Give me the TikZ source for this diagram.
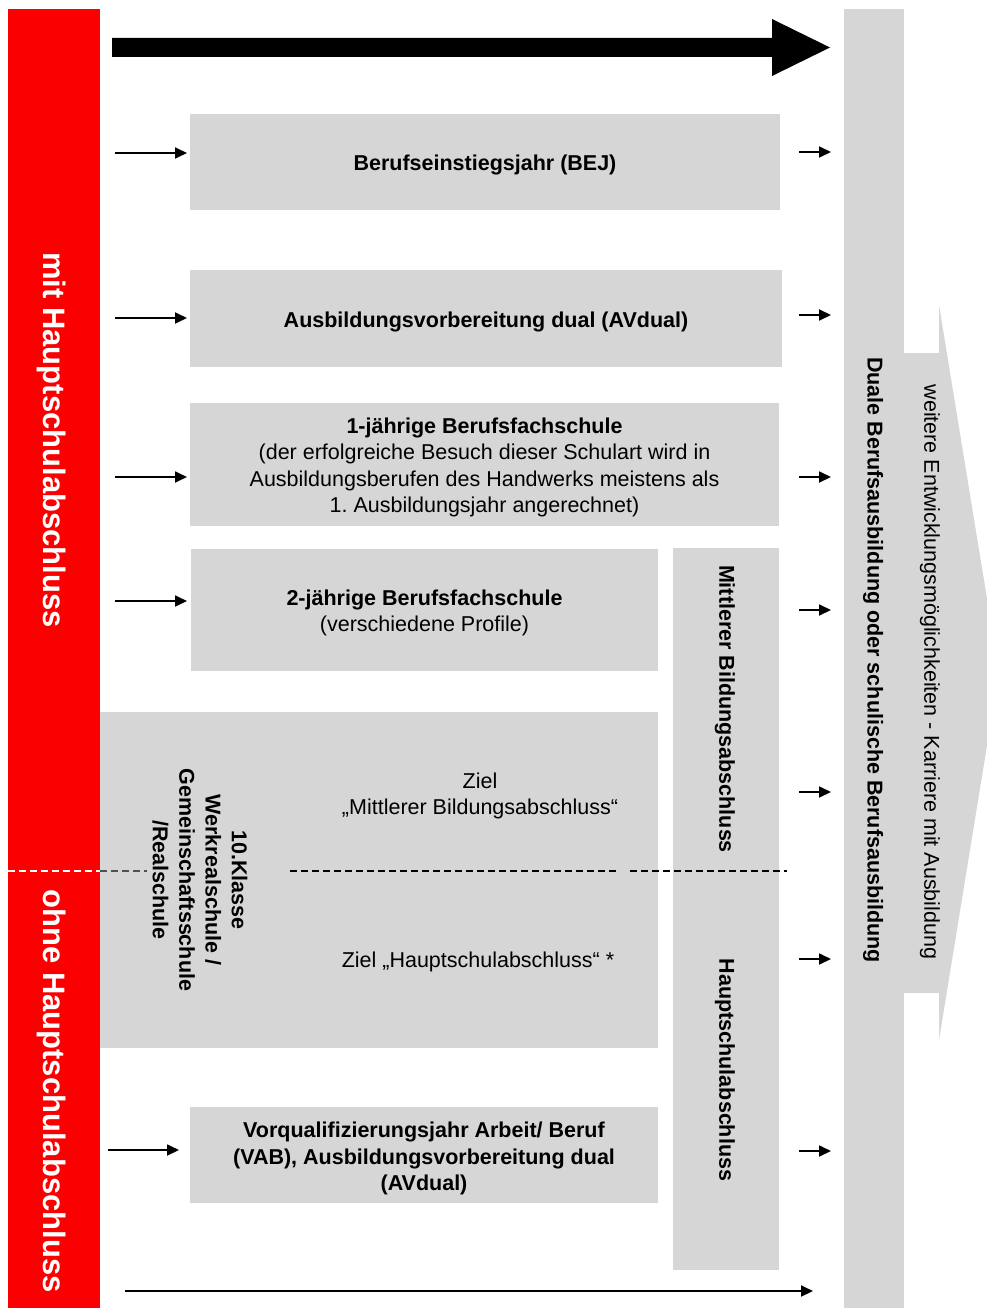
\documentclass[tikz,border=0pt]{standalone}
\usepackage{fontspec}
\setmainfont{Liberation Sans}
\usetikzlibrary{arrows.meta}
\definecolor{boxgray}{HTML}{D6D6D6}
\definecolor{barred}{HTML}{FA0000}
\definecolor{dashgray}{HTML}{505050}
\frenchspacing
\begin{document}
\begin{tikzpicture}[x=1pt,y=-1pt,
  box/.style={fill=boxgray, draw=none, inner sep=0pt},
  txt/.style={inner sep=0pt, align=center, font=\fontsize{21.5}{26.3}\selectfont},
  btxt/.style={txt, font=\fontsize{21.5}{26.3}\selectfont\bfseries},
  redtxt/.style={txt, rotate=-90, text=white, font=\fontsize{31}{36}\selectfont\bfseries},
  smallarr/.style={line width=1.8pt, -{Triangle[length=12pt,width=11pt]}},
  longarr/.style={line width=2pt, -{Triangle[length=12pt,width=11pt]}},
  divline/.style={line width=1.2pt, dash pattern=on 7pt off 4pt}]
\useasboundingbox (0,0) rectangle (987,1308);
\clip (0,0) rectangle (987,1308);

% red bar and right column
\node[fill=barred, inner sep=0pt, minimum width=92pt, minimum height=1299pt] (red) at (54,658.5) {};
\node[fill=boxgray, inner sep=0pt, minimum width=60pt, minimum height=1299pt] (dual) at (874,658.5) {};
\fill[boxgray] (904,353) -- (939,353) -- (939,305) -- (999,672) -- (939,1040) -- (939,993) -- (904,993) -- cycle;

% big top arrow
\fill[black] (112,38) -- (772,38) -- (772,19) -- (830,47.5) -- (772,76) -- (772,57) -- (112,57) -- cycle;

% boxes
\node[box, minimum width=590pt, minimum height=96pt] (bej) at (485,162) {};
\node[box, minimum width=592pt, minimum height=97pt] (avd) at (486,318.5) {};
\node[box, minimum width=589pt, minimum height=123pt] (bfs1) at (484.5,464.5) {};
\node[box, minimum width=467pt, minimum height=122pt] (bfs2) at (424.5,609.5) {};
\node[box, minimum width=106pt, minimum height=722pt] (mba) at (726,909) {};
\node[box, minimum width=558pt, minimum height=336pt] (kl10) at (379,880) {};
\node[box, minimum width=468pt, minimum height=96pt] (vab) at (424,1155) {};

% box texts
\node[btxt] (bejt) at ([yshift=-3pt]bej.center) {Berufseinstiegsjahr (BEJ)};
\node[btxt] (avdt) at ([yshift=-3pt]avd.center) {Ausbildungsvorbereitung dual (AVdual)};
\node[txt] (bfs1t) at ([yshift=-3pt]bfs1.center) {\textbf{1-jährige Berufsfachschule}\\(der erfolgreiche Besuch dieser Schulart wird in\\Ausbildungsberufen des Handwerks meistens als\\1. Ausbildungsjahr angerechnet)};
\node[txt] (bfs2t) at ([yshift=-3.5pt]bfs2.center) {\textbf{2-jährige Berufsfachschule}\\(verschiedene Profile)};
\node[btxt] (vabt) at ([yshift=-3.5pt]vab.center) {Vorqualifizierungsjahr Arbeit/ Beruf\\(VAB), Ausbildungsvorbereitung dual\\(AVdual)};

% dashed divider
\coordinate (d0) at (8,871);
\coordinate (d1) at (100,871);
\coordinate (d2) at (147,871);
\coordinate (d3) at (290,871);
\coordinate (d4) at (618,871);
\coordinate (d5) at (630,871);
\coordinate (d6) at (787,871);
\draw[divline, white] (d0) -- (d1);
\draw[divline, dashgray] (d1) -- (d2);
\draw[divline, black] (d3) -- (d4);
\draw[divline, black] (d5) -- (d6);

% texts
\node[redtxt] (mit) at (52,440) {mit Hauptschulabschluss};
\node[redtxt] (ohne) at (52,1091) {ohne Hauptschulabschluss};
\node[btxt, rotate=-90] (mbat) at (725,709) {Mittlerer Bildungsabschluss};
\node[btxt, rotate=-90] (hsat) at (725,1070) {Hauptschulabschluss};
\node[btxt, rotate=-90] (dualt) at (873,660) {Duale Berufsausbildung oder schulische Berufsausbildung};
\node[txt, rotate=-90] (weit) at (930,672) {weitere Entwicklungsmöglichkeiten - Karriere mit Ausbildung};
\node[btxt, rotate=-90] (kl10t) at (200,880) {10.Klasse\\Werkrealschule /\\Gemeinschaftsschule\\/Realschule};
\node[txt] (zmba) at (480,796) {Ziel\\„Mittlerer Bildungsabschluss“};
\node[txt] (zhsa) at (478,962) {Ziel „Hauptschulabschluss“ *};

% left arrows
\coordinate (l1) at (115,153); \coordinate (l1e) at (187,153);
\coordinate (l2) at (115,318); \coordinate (l2e) at (187,318);
\coordinate (l3) at (115,477); \coordinate (l3e) at (187,477);
\coordinate (l4) at (115,601); \coordinate (l4e) at (187,601);
\coordinate (l5) at (108,1150); \coordinate (l5e) at (179,1150);
\foreach \a/\b in {l1/l1e,l2/l2e,l3/l3e,l4/l4e,l5/l5e} \draw[smallarr] (\a) -- (\b);

% right arrows
\foreach \n/\y in {r1/152,r2/315,r3/477,r4/610,r5/792,r6/959,r7/1151} {
  \coordinate (\n s) at (799,\y);
  \coordinate (\n e) at (831,\y);
  \draw[smallarr] (\n s) -- (\n e);
}

% bottom arrow
\coordinate (bs) at (125,1291);
\coordinate (be) at (813,1291);
\draw[longarr] (bs) -- (be);
\end{tikzpicture}
\end{document}
